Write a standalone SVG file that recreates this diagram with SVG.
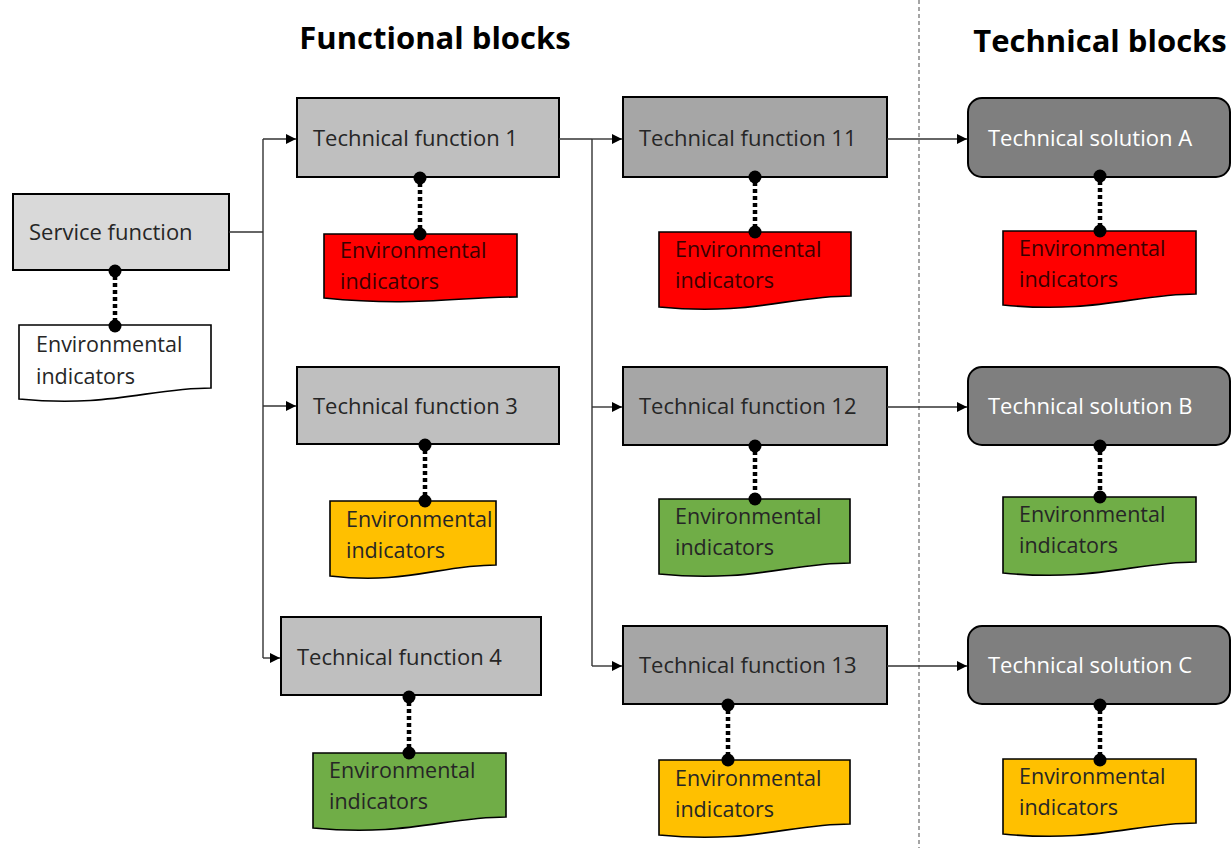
<svg xmlns="http://www.w3.org/2000/svg" width="1232" height="848" viewBox="0 0 1232 848">
<defs>
<marker id="arr" viewBox="0 0 10 10" refX="10" refY="5" markerWidth="10" markerHeight="10" markerUnits="userSpaceOnUse" orient="auto">
<path d="M0,0 L10,5 L0,10 z" fill="#000"/>
</marker>
<style>
.title{font-family:"Open Sans","Liberation Sans",sans-serif;font-weight:bold;font-size:31px;fill:#000}
.box{stroke:#000;stroke-width:2}
.lbl{font-family:"Open Sans","Liberation Sans",sans-serif;font-size:22px;fill:#262626}
.wlbl{font-family:"Open Sans","Liberation Sans",sans-serif;font-size:22px;fill:#fff}
.doc{stroke:#000;stroke-width:1.6}
.dtxt{font-family:"Open Sans","Liberation Sans",sans-serif;font-size:21.5px;fill:#262626}
.rtxt{font-family:"Open Sans","Liberation Sans",sans-serif;font-size:21.5px;fill:#3a0000}
.conn{fill:none;stroke:#333;stroke-width:1.4}
.dot{stroke:#000;stroke-width:4.5;stroke-dasharray:4 3;fill:none}
.divider{stroke:#888;stroke-width:1.5;stroke-dasharray:4 3}
</style>
</defs>
<rect width="1232" height="848" fill="#fff"/>
<text class="title" x="435" y="49" text-anchor="middle">Functional blocks</text>
<text class="title" x="1100" y="52" text-anchor="middle">Technical blocks</text>
<line class="divider" x1="919" y1="0" x2="919" y2="848"/>

<g id="service">
<rect class="box" x="13" y="194" width="216" height="76" fill="#d9d9d9"/>
<text class="lbl" x="29" y="240">Service function</text>
</g>
<g id="ind-service">
<path class="doc" fill="#fff" d="M19,325 H211 V388 C150,388 110,408 19,399 Z"/>
<text class="dtxt" x="36" y="352">Environmental</text>
<text class="dtxt" x="36" y="384">indicators</text>
</g>

<g id="tf1">
<rect class="box" x="297" y="98" width="262" height="79" fill="#bfbfbf"/>
<text class="lbl" x="313" y="146">Technical function 1</text>
</g>
<g id="ind-tf1">
<path class="doc" fill="#ff0000" d="M324,234 H517 V297 C455,297 415,307 324,298 Z"/>
<text class="rtxt" x="340" y="258">Environmental</text>
<text class="rtxt" x="340" y="289">indicators</text>
</g>

<g id="tf3">
<rect class="box" x="297" y="367" width="262" height="77" fill="#bfbfbf"/>
<text class="lbl" x="313" y="414">Technical function 3</text>
</g>
<g id="ind-tf3">
<path class="doc" fill="#ffc000" d="M330,501 H496 V565 C440,565 405,585 330,576 Z"/>
<text class="dtxt" x="346" y="527">Environmental</text>
<text class="dtxt" x="346" y="558">indicators</text>
</g>

<g id="tf4">
<rect class="box" x="281" y="617" width="260" height="78" fill="#bfbfbf"/>
<text class="lbl" x="297" y="665">Technical function 4</text>
</g>
<g id="ind-tf4">
<path class="doc" fill="#70ad47" d="M313,753 H506 V817 C445,817 405,837 313,828 Z"/>
<text class="dtxt" x="329" y="778">Environmental</text>
<text class="dtxt" x="329" y="809">indicators</text>
</g>

<g id="tf11">
<rect class="box" x="623" y="97" width="264" height="80" fill="#a6a6a6"/>
<text class="lbl" x="639" y="146">Technical function 11</text>
</g>
<g id="ind-tf11">
<path class="doc" fill="#ff0000" d="M659,232 H851 V296 C790,296 750,316 659,307 Z"/>
<text class="rtxt" x="675" y="257">Environmental</text>
<text class="rtxt" x="675" y="288">indicators</text>
</g>

<g id="tf12">
<rect class="box" x="623" y="367" width="264" height="78" fill="#a6a6a6"/>
<text class="lbl" x="639" y="414">Technical function 12</text>
</g>
<g id="ind-tf12">
<path class="doc" fill="#70ad47" d="M659,499 H850 V563 C790,563 750,583 659,574 Z"/>
<text class="dtxt" x="675" y="524">Environmental</text>
<text class="dtxt" x="675" y="555">indicators</text>
</g>

<g id="tf13">
<rect class="box" x="623" y="626" width="264" height="78" fill="#a6a6a6"/>
<text class="lbl" x="639" y="673">Technical function 13</text>
</g>
<g id="ind-tf13">
<path class="doc" fill="#ffc000" d="M659,760 H850 V824 C790,824 750,844 659,835 Z"/>
<text class="dtxt" x="675" y="786">Environmental</text>
<text class="dtxt" x="675" y="817">indicators</text>
</g>

<g id="tsA">
<rect class="box" x="968" y="98" width="262" height="79" rx="14" fill="#7f7f7f"/>
<text class="wlbl" x="988" y="146">Technical solution A</text>
</g>
<g id="ind-tsA">
<path class="doc" fill="#ff0000" d="M1003,231 H1196 V294 C1135,294 1095,314 1003,305 Z"/>
<text class="rtxt" x="1019" y="256">Environmental</text>
<text class="rtxt" x="1019" y="287">indicators</text>
</g>

<g id="tsB">
<rect class="box" x="968" y="367" width="262" height="78" rx="14" fill="#7f7f7f"/>
<text class="wlbl" x="988" y="414">Technical solution B</text>
</g>
<g id="ind-tsB">
<path class="doc" fill="#70ad47" d="M1003,497 H1196 V562 C1135,562 1095,582 1003,573 Z"/>
<text class="dtxt" x="1019" y="522">Environmental</text>
<text class="dtxt" x="1019" y="553">indicators</text>
</g>

<g id="tsC">
<rect class="box" x="968" y="626" width="262" height="78" rx="14" fill="#7f7f7f"/>
<text class="wlbl" x="988" y="673">Technical solution C</text>
</g>
<g id="ind-tsC">
<path class="doc" fill="#ffc000" d="M1003,759 H1196 V823 C1135,823 1095,843 1003,834 Z"/>
<text class="dtxt" x="1019" y="784">Environmental</text>
<text class="dtxt" x="1019" y="815">indicators</text>
</g>

<g id="connectors">
<path class="conn" d="M229,232 H263"/>
<path class="conn" d="M263,139 V658"/>
<path class="conn" d="M263,139 H296" marker-end="url(#arr)"/>
<path class="conn" d="M263,406 H296" marker-end="url(#arr)"/>
<path class="conn" d="M263,658 H280" marker-end="url(#arr)"/>
<path class="conn" d="M559,139 H592"/>
<path class="conn" d="M592,139 V666"/>
<path class="conn" d="M592,139 H622" marker-end="url(#arr)"/>
<path class="conn" d="M592,407 H622" marker-end="url(#arr)"/>
<path class="conn" d="M592,666 H622" marker-end="url(#arr)"/>
<path class="conn" d="M887,139 H967" marker-end="url(#arr)"/>
<path class="conn" d="M887,407 H967" marker-end="url(#arr)"/>
<path class="conn" d="M887,666 H967" marker-end="url(#arr)"/>
<g fill="#000">
<line class="dot" x1="115" y1="276" x2="115" y2="322"/><circle cx="115" cy="271" r="6.5"/><circle cx="115" cy="326" r="6.5"/>
<line class="dot" x1="420" y1="183" x2="420" y2="229"/><circle cx="420" cy="178" r="6.5"/><circle cx="420" cy="234" r="6.5"/>
<line class="dot" x1="425" y1="450" x2="425" y2="496"/><circle cx="425" cy="445" r="6.5"/><circle cx="425" cy="501" r="6.5"/>
<line class="dot" x1="409" y1="702" x2="409" y2="748"/><circle cx="409" cy="697" r="6.5"/><circle cx="409" cy="753" r="6.5"/>
<line class="dot" x1="755" y1="182" x2="755" y2="227"/><circle cx="755" cy="177" r="6.5"/><circle cx="755" cy="232" r="6.5"/>
<line class="dot" x1="755" y1="451" x2="755" y2="494"/><circle cx="755" cy="446" r="6.5"/><circle cx="755" cy="499" r="6.5"/>
<line class="dot" x1="728" y1="710" x2="728" y2="755"/><circle cx="728" cy="705" r="6.5"/><circle cx="728" cy="760" r="6.5"/>
<line class="dot" x1="1100" y1="181" x2="1100" y2="226"/><circle cx="1100" cy="176" r="6.5"/><circle cx="1100" cy="231" r="6.5"/>
<line class="dot" x1="1100" y1="451" x2="1100" y2="492"/><circle cx="1100" cy="446" r="6.5"/><circle cx="1100" cy="497" r="6.5"/>
<line class="dot" x1="1100" y1="710" x2="1100" y2="755"/><circle cx="1100" cy="705" r="6.5"/><circle cx="1100" cy="760" r="6.5"/>
</g>
</g>
</svg>
